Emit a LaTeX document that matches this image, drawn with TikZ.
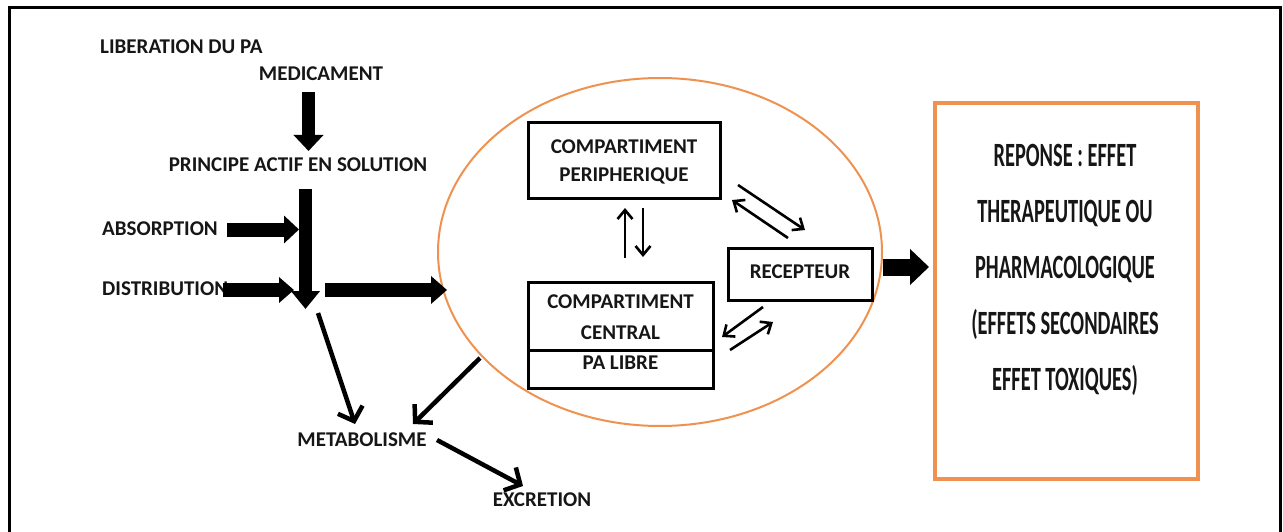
\documentclass[tikz,border=0pt]{standalone}
\usepackage{fontspec}
\setmainfont{Carlito}
\newfontfamily\condensed{Carlito}[FakeStretch=0.6]
\usetikzlibrary{arrows.meta,shapes.geometric}
\definecolor{pkorange}{HTML}{EF9250}
\definecolor{ink}{HTML}{161616}

\begin{document}
\begin{tikzpicture}[x=1pt,y=-1pt,
  lbl/.style={font=\fontsize{21}{24}\selectfont\bfseries, text=ink, inner sep=0pt,
              text height=13.5pt, text depth=0pt},
  boxed/.style={draw=black, line width=3pt, inner sep=0pt, rectangle},
  fat/.style={line width=13pt, -{Triangle[length=16pt,width=29pt]}},
  medium/.style={line width=4.5pt, -{Straight Barb[length=12pt,width=26pt,line width=4.5pt]}},
  thin/.style={line width=2.6pt, -{Straight Barb[length=9pt,width=15pt,line width=2.6pt]}}
]
\useasboundingbox (0,0) rectangle (1283,532);
\fill[white] (0,0) rectangle (1283,532);

% outer frame (open at the bottom edge of the page)
\draw[line width=3pt] (9,533) -- (9,8) -- (1280,8) -- (1280,533);

% left column labels
\node[lbl, anchor=west] (lib)  at (100,47)  {LIBERATION DU PA};
\node[lbl]              (med)  at (321,74)  {MEDICAMENT};
\node[lbl]              (pas)  at (298,165) {PRINCIPE ACTIF EN SOLUTION};
\node[lbl, anchor=west] (abs)  at (102,229) {ABSORPTION};
\node[lbl, anchor=west] (dist) at (102,289) {DISTRIBUTION};
\node[lbl]              (meta) at (362,440) {METABOLISME};
\node[lbl]              (excr) at (542,500) {EXCRETION};

% body compartment (ellipse) and its contents
\node[draw=pkorange, line width=2pt, ellipse, minimum width=444pt, minimum height=348pt,
      inner sep=0pt] (body) at (660,252) {};

\node[boxed, minimum width=192pt, minimum height=75pt] (peri) at (624,160.5) {};
\node[lbl] at (624,147) {COMPARTIMENT};
\node[lbl] at (624,175) {PERIPHERIQUE};

\node[boxed, minimum width=185pt, minimum height=68pt] (central) at (620.5,316) {};
\node[lbl] at (620.5,302) {COMPARTIMENT};
\node[lbl] at (620.5,333) {CENTRAL};
\node[boxed, minimum width=185pt, minimum height=38pt] (libre) at (620.5,369) {};
\node[lbl] at (620.5,363) {PA LIBRE};

\node[boxed, minimum width=144pt, minimum height=52pt] (recep) at (800,274) {};
\node[lbl] at (800,272) {RECEPTEUR};

% response box
\node[draw=pkorange, line width=4.5pt, rectangle, minimum width=263pt, minimum height=376pt,
      inner sep=0pt] (rep) at (1066.5,291) {};
\node[font=\condensed\bfseries\fontsize{34}{56}\selectfont, text=ink, align=center, inner sep=0pt]
      (reptext) at (1065,270)
      {REPONSE : EFFET\\THERAPEUTIQUE OU\\PHARMACOLOGIQUE\\(EFFETS SECONDAIRES\\EFFET TOXIQUES)};

% end points of the connectors
\coordinate (m1) at (308.5,92);   \coordinate (p1) at (308.5,151);
\coordinate (p2) at (305.5,189);  \coordinate (j)  at (305.5,309);
\coordinate (a1) at (227,229.5);  \coordinate (a2) at (299,229.5);
\coordinate (d1) at (223,290);    \coordinate (d2) at (294,290);
\coordinate (r1) at (325,290);    \coordinate (r2) at (447,290);
\coordinate (j2) at (318,313);    \coordinate (mt1) at (355,424);
\coordinate (b1) at (480,358);    \coordinate (mt2) at (413,424);
\coordinate (mt3) at (437,440);   \coordinate (x1) at (523,486);
\coordinate (rc1) at (883,267);   \coordinate (rp1) at (929,267);

% thick block arrows
\draw[fat] (m1) -- (p1);
\draw[fat, -{Triangle[length=18pt,width=28pt]}] (p2) -- (j);
\draw[fat, line width=14pt, -{Triangle[length=15pt,width=27pt]}] (a1) -- (a2);
\draw[fat, line width=14pt, -{Triangle[length=15pt,width=25pt]}] (d1) -- (d2);
\draw[fat, line width=14pt, -{Triangle[length=16pt,width=27pt]}] (r1) -- (r2);
\draw[fat, line width=17pt, -{Triangle[length=19pt,width=35pt]}] (rc1) -- (rp1);

% metabolism and excretion
\draw[medium] (j2) -- (mt1);
\draw[medium] (b1) -- (mt2);
\draw[medium] (mt3) -- (x1);

% exchanges between compartments
\draw[thin] (625,258) -- (625,208);
\draw[thin] (643,208) -- (643,257);
\draw[thin] (738,185) -- (805,230);
\draw[thin] (788,238) -- (732,200);
\draw[thin] (763,307) -- (722,337);
\draw[thin] (730,350) -- (773,322);
\end{tikzpicture}
\end{document}
